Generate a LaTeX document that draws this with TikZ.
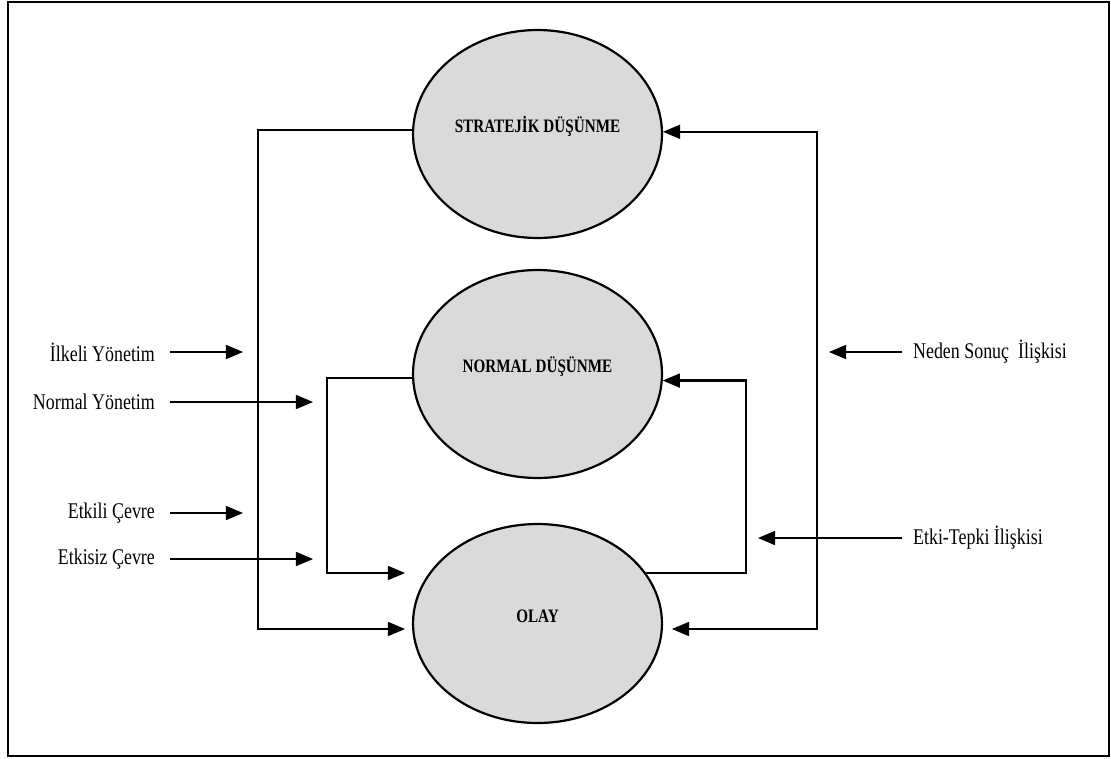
\documentclass[tikz,border=0pt]{standalone}
\usepackage{fontspec}
\setmainfont{Liberation Serif}
\newfontfamily\narrowserif[FakeStretch=0.8]{Liberation Serif}
\usetikzlibrary{arrows,shapes}

\definecolor{ovalgray}{RGB}{218,218,218}

\begin{document}
\begin{tikzpicture}[x=0.02cm,y=-0.02cm,>=triangle 45,line width=1.25pt]
        \tikzstyle{oval}=[ellipse, draw, fill=ovalgray, inner sep=0pt, minimum width=4.98cm, minimum height=4.16cm, font=\narrowserif\bfseries\fontsize{10.8}{12}\selectfont, text height=7.5pt, text depth=8.9pt]
        \tikzstyle{inlabel}=[font=\narrowserif\fontsize{12.75}{14}\selectfont, inner xsep=0.28cm, inner ysep=0pt, anchor=east]
        \tikzstyle{outlabel}=[font=\narrowserif\fontsize{12.75}{14}\selectfont, inner xsep=0.2cm, inner ysep=0pt, anchor=west]

        \useasboundingbox (0,0) rectangle (1111,758);
        \draw[line width=1.5pt] (8,2) rectangle (1109,756);

        \node[oval]                        (str)  at (537.5,134)   {STRATEJİK DÜŞÜNME};
        \node[oval]                        (nd)   at (537.5,374)   {NORMAL DÜŞÜNME};
        \node[oval, minimum height=3.98cm] (olay) at (537.5,623.5) {OLAY};

        % corners of the feedback lines
        \coordinate (lfo)    at (258,400);
        \coordinate (lfi)    at (327,480);
        \coordinate (rgi)    at (746,480);
        \coordinate (rgo)    at (817,400);
        \coordinate (olaylo) at (405,629);
        \coordinate (olayli) at (405,573);
        \coordinate (olayro) at (672,629);

        \draw[->]  (str.178.2) -| (lfo) |- (olaylo);
        \draw[<->] (olayro) -| (rgo) |- (str.1.8);
        \draw[->]  (nd.182.8) -| (lfi) |- (olayli);
        \draw[->]  (olay.25.2) -| (rgi) |- (nd.357.2);

        % side labels
        \node[inlabel]  (ilk) at (170,352) {İlkeli Yönetim};
        \node[inlabel]  (nyo) at (170,402) {Normal Yönetim};
        \node[inlabel]  (eki) at (170,513) {Etkili Çevre};
        \node[inlabel]  (eks) at (170,559) {Etkisiz Çevre};
        \node[outlabel] (nsi) at (902,352) {Neden Sonuç\ \ İlişkisi};
        \node[outlabel] (eti) at (902,538) {Etki-Tepki İlişkisi};

        \coordinate (ilke) at (243,352);
        \coordinate (nyoe) at (313,402);
        \coordinate (ekie) at (243,513);
        \coordinate (ekse) at (313,559);
        \coordinate (nsie) at (829,352);
        \coordinate (etie) at (758,538);

        \draw[->] (ilk.east) -- (ilke);
        \draw[->] (nyo.east) -- (nyoe);
        \draw[->] (eki.east) -- (ekie);
        \draw[->] (eks.east) -- (ekse);
        \draw[->] (nsi.west) -- (nsie);
        \draw[->] (eti.west) -- (etie);
\end{tikzpicture}
\end{document}
